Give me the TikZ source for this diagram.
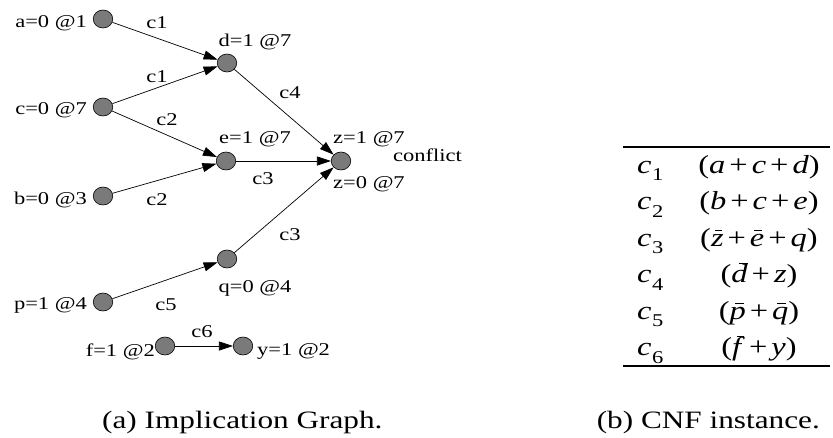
\documentclass[tikz,border=0pt]{standalone}
\usepackage{fontspec}
\setmainfont[FakeStretch=1.25]{Liberation Serif}
\usetikzlibrary{arrows.meta,shapes.geometric}
\definecolor{vgray}{RGB}{122,122,122}
\newsavebox\lbox
\newcommand\ci[1]{\textit{c}\kern0.5pt\raisebox{-0.3em}{\fontsize{18}{18}\selectfont #1}}
\newcommand\barit[3]{\sbox\lbox{\textit{#1}}\rlap{\hspace{#3\wd\lbox}\raisebox{#2}{\rule{0.55\wd\lbox}{0.9pt}}}\usebox\lbox}
\newcommand\pl{\hspace{4pt}+\hspace{4pt}}
\tikzset{
  vtx/.style={ellipse, draw=black, line width=0.6pt, fill=vgray, minimum width=19.5pt, minimum height=18pt, inner sep=0pt},
  imp/.style={line width=0.7pt, -{Triangle[length=14pt,width=9pt]}},
  lbl/.style={font=\fontsize{18}{18}\selectfont, inner sep=0pt},
  tab/.style={font=\fontsize{26}{26}\selectfont, inner sep=0pt},
  captext/.style={font=\fontsize{25}{25}\selectfont, inner sep=0pt},
  rulex/.style={line width=2pt}
}
\begin{document}
\begin{tikzpicture}[x=1pt,y=-1pt]
\useasboundingbox (0,0) rectangle (833,437);
% vertices
\node[vtx] (a) at (103,19) {};
\node[vtx] (d) at (227,63) {};
\node[vtx] (c) at (103,107) {};
\node[vtx] (e) at (226,161) {};
\node[vtx] (z) at (341,161) {};
\node[vtx] (b) at (103,196) {};
\node[vtx] (q) at (227,259) {};
\node[vtx] (p) at (103,302) {};
\node[vtx] (f) at (165,346) {};
\node[vtx] (y) at (243,346) {};
% vertex labels
\node[lbl, anchor=base east] (la) at (87,27.5) {a=0 @1};
\node[lbl, anchor=base east] (lc) at (87,114) {c=0 @7};
\node[lbl, anchor=base east] (lb) at (87,204) {b=0 @3};
\node[lbl, anchor=base east] (lp) at (87,309) {p=1 @4};
\node[lbl, anchor=base east] (lf) at (155,356) {f=1 @2};
\node[lbl, anchor=base west] (ly) at (257,355) {y=1 @2};
\node[lbl, anchor=base] (ld) at (255,46) {d=1 @7};
\node[lbl, anchor=base] (le) at (255,143) {e=1 @7};
\node[lbl, anchor=base] (lq) at (255,292) {q=0 @4};
\node[lbl, anchor=base west] (lz1) at (333,143) {z=1 @7};
\node[lbl, anchor=base west] (lz0) at (333,188) {z=0 @7};
\node[lbl, anchor=base west] (conf) at (393,161) {conflict};
% edges
\draw[imp] (a) -- (d);
\draw[imp] (c) -- (d);
\draw[imp] (c) -- (e);
\draw[imp] (b) -- (e);
\draw[imp] (d) -- (z);
\draw[imp] (e) -- (z);
\draw[imp] (q) -- (z);
\draw[imp] (p) -- (q);
\draw[imp] (f) -- (y);
% edge labels
\node[lbl, anchor=base] (e1) at (157,28) {c1};
\node[lbl, anchor=base] (e2) at (157,82) {c1};
\node[lbl, anchor=base] (e3) at (167,125) {c2};
\node[lbl, anchor=base] (e4) at (290,98) {c4};
\node[lbl, anchor=base] (e5) at (263,184) {c3};
\node[lbl, anchor=base] (e6) at (157,205) {c2};
\node[lbl, anchor=base] (e7) at (290,240) {c3};
\node[lbl, anchor=base] (e8) at (166,310) {c5};
\node[lbl, anchor=base] (e9) at (202,337) {c6};
% table
\coordinate (tl) at (623,147);
\coordinate (tr) at (830,147);
\coordinate (bl) at (623,366);
\coordinate (br) at (830,366);
\draw[rulex] (tl) -- (tr);
\draw[rulex] (bl) -- (br);
\node[tab, anchor=base west] (k1) at (637,173) {\ci{1}};
\node[tab, anchor=base west] (k2) at (637,209.5) {\ci{2}};
\node[tab, anchor=base west] (k3) at (637,246) {\ci{3}};
\node[tab, anchor=base west] (k4) at (637,282.5) {\ci{4}};
\node[tab, anchor=base west] (k5) at (637,319) {\ci{5}};
\node[tab, anchor=base west] (k6) at (637,355.5) {\ci{6}};
\node[tab, anchor=base] (f1) at (759,173) {(\textit{a}\pl\textit{c}\pl\textit{d})};
\node[tab, anchor=base] (f2) at (759,209.5) {(\textit{b}\pl\textit{c}\pl\textit{e})};
\node[tab, anchor=base] (f3) at (759,246) {(\barit{z}{0.6em}{0.3}\pl\barit{e}{0.6em}{0.3}\pl\textit{q})};
\node[tab, anchor=base] (f4) at (759,282.5) {(\barit{d}{0.72em}{0.45}\pl\textit{z})};
\node[tab, anchor=base] (f5) at (759,319) {(\barit{p}{0.6em}{0.35}\pl\barit{q}{0.6em}{0.3})};
\node[tab, anchor=base] (f6) at (759,355.5) {(\barit{f}{0.72em}{0.35}\pl\textit{y})};
% captions
\node[captext, anchor=base west] (capa) at (102,428) {(a) Implication Graph.};
\node[captext, anchor=base east] (capb) at (820,428) {(b) CNF instance.};
\end{tikzpicture}
\end{document}
